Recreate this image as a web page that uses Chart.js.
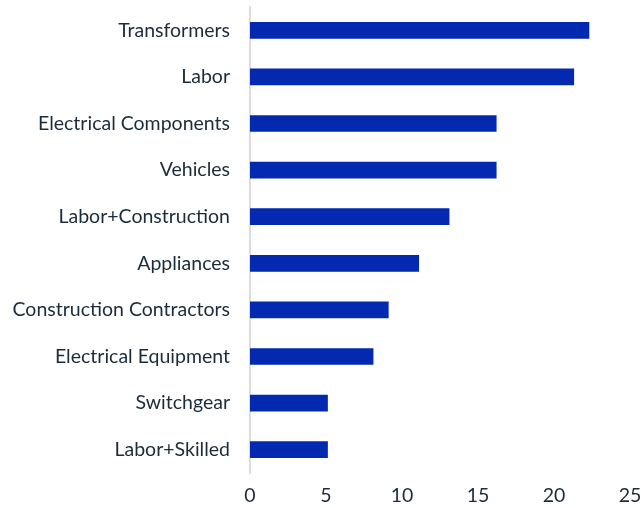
<!DOCTYPE html>
<html>
<head>
<meta charset="utf-8">
<script src="https://cdn.jsdelivr.net/npm/chart.js@4"></script>
<style>
  body { margin: 0; background: #fff; }
  #wrap { width: 641px; height: 508px; }
</style>
</head>
<body>
<div id="wrap"><canvas id="myChart"></canvas></div>
<script>
// data
const categories = [
  "Transformers",
  "Labor",
  "Electrical Components",
  "Vehicles",
  "Labor+Construction",
  "Appliances",
  "Construction Contractors",
  "Electrical Equipment",
  "Switchgear",
  "Labor+Skilled",
];
const values = [22.3, 21.3, 16.2, 16.2, 13.1, 11.1, 9.1, 8.1, 5.1, 5.1];
const xTicks = [0, 5, 10, 15, 20, 25];

const textColor = "#1c2b3a";

const ctx = document.getElementById("myChart").getContext("2d");
const myChart = new Chart(ctx, {
  type: "bar",
  data: {
    labels: categories,
    datasets: [
      {
        data: values,
        backgroundColor: "#0229b0",
        barThickness: 16,
      },
    ],
  },
  options: {
    indexAxis: "y",
    responsive: true,
    maintainAspectRatio: false,
    animation: false,
    layout: { padding: { top: 7, left: 0, right: 0, bottom: 0 } },
    plugins: {
      legend: { display: false },
      tooltip: { enabled: false },
    },
    scales: {
      x: {
        min: 0,
        max: 25,
        afterBuildTicks: (axis) => {
          axis.ticks = xTicks.map((v) => ({ value: v }));
        },
        afterFit: (s) => {
          s.height = 35;
          s.paddingLeft = 0;
          s.paddingRight = 11;
        },
        grid: { display: false, drawTicks: false },
        border: { display: false },
        ticks: {
          color: textColor,
          padding: 12,
          font: { family: "Lato", size: 19.5, lineHeight: 1.1 },
          maxRotation: 0,
        },
      },
      y: {
        afterFit: (s) => {
          s.width = 250;
          s.paddingTop = 0;
          s.paddingBottom = 0;
        },
        grid: { display: false, drawTicks: false },
        border: { display: true, color: "#dcdcdc", width: 2 },
        ticks: {
          color: textColor,
          padding: 20,
          font: { family: "Lato", size: 19.5 },
        },
      },
    },
  },
});
</script>
</body>
</html>
